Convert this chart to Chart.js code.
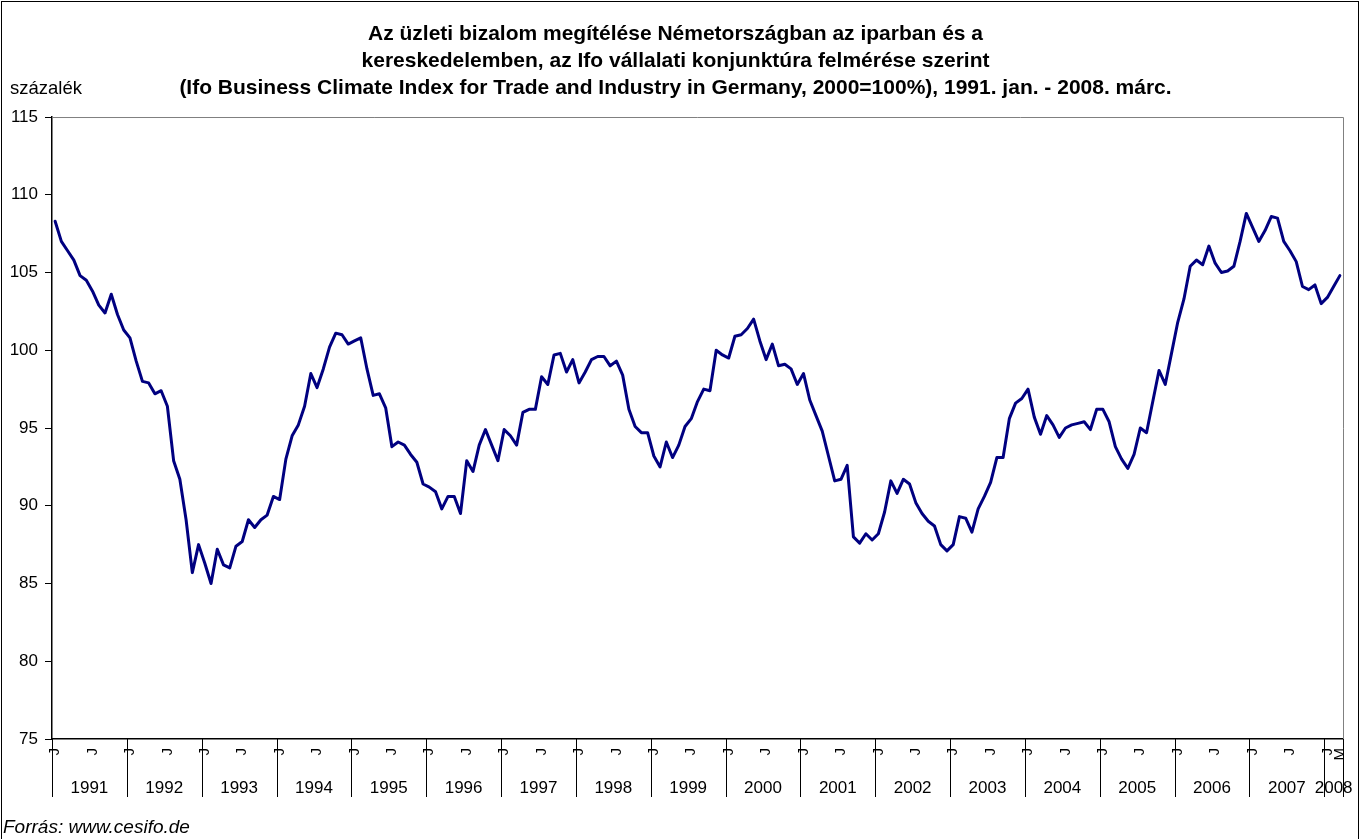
<!DOCTYPE html>
<html>
<head>
<meta charset="utf-8">
<script src="https://cdn.jsdelivr.net/npm/chart.js@4/dist/chart.umd.min.js"></script>
<style>
html,body{margin:0;padding:0;background:#fff;}
#wrap{width:1362px;height:839px;position:relative;}
</style>
</head>
<body>
<div id="wrap"><canvas id="c" width="1362" height="839"></canvas></div>
<script>
// ---------- texts ----------
const titleLines = [
  "Az üzleti bizalom megítélése Németországban az iparban és a",
  "kereskedelemben, az Ifo vállalati konjunktúra felmérése szerint",
  "(Ifo Business Climate Index for Trade and Industry in Germany, 2000=100%), 1991. jan. - 2008. márc."
];
const yAxisUnit = "százalék";
const sourceNote = "Forrás: www.cesifo.de";

// ---------- categories / tick labels ----------
const years = ["1991","1992","1993","1994","1995","1996","1997","1998","1999",
               "2000","2001","2002","2003","2004","2005","2006","2007","2008"];
const monthNames = ["jan","febr","márc","ápr","máj","jún","júl","aug","szept","okt","nov","dec"];
const monthLetters = ["J","","","","","","J","","","","",""];
const lastMonthLetter = "M";
const yTickValues = [75, 80, 85, 90, 95, 100, 105, 110, 115];

// ---------- series: Ifo index, monthly 1991 jan - 2008 márc ----------
const ifoIndex = [
  108.3,107.0,106.4,105.8,104.8,104.5,103.8,102.9,102.4,103.6,102.3,101.3, // 1991
  100.8, 99.3, 98.0, 97.9, 97.2, 97.4, 96.4, 92.9, 91.7, 89.1, 85.7, 87.5, // 1992
   86.3, 85.0, 87.2, 86.2, 86.0, 87.4, 87.7, 89.1, 88.6, 89.1, 89.4, 90.6, // 1993
   90.4, 93.0, 94.5, 95.2, 96.4, 98.5, 97.6, 98.8,100.2,101.1,101.0,100.4, // 1994
  100.6,100.8, 98.8, 97.1, 97.2, 96.3, 93.8, 94.1, 93.9, 93.3, 92.8, 91.4, // 1995
   91.2, 90.9, 89.8, 90.6, 90.6, 89.5, 92.9, 92.2, 93.9, 94.9, 93.9, 92.9, // 1996
   94.9, 94.5, 93.9, 96.0, 96.2, 96.2, 98.3, 97.8, 99.7, 99.8, 98.6, 99.4, // 1997
   97.9, 98.6, 99.4, 99.6, 99.6, 99.0, 99.3, 98.4, 96.2, 95.1, 94.7, 94.7, // 1998
   93.2, 92.5, 94.1, 93.1, 93.9, 95.1, 95.6, 96.7, 97.5, 97.4,100.0, 99.7, // 1999
   99.5,100.9,101.0,101.4,102.0,100.6, 99.4,100.4, 99.0, 99.1, 98.8, 97.8, // 2000
   98.5, 96.8, 95.8, 94.8, 93.2, 91.6, 91.7, 92.6, 88.0, 87.6, 88.2, 87.8, // 2001
   88.2, 89.6, 91.6, 90.8, 91.7, 91.4, 90.2, 89.5, 89.0, 88.7, 87.5, 87.1, // 2002
   87.5, 89.3, 89.2, 88.3, 89.8, 90.6, 91.5, 93.1, 93.1, 95.6, 96.6, 96.9, // 2003
   97.5, 95.7, 94.6, 95.8, 95.2, 94.4, 95.0, 95.2, 95.3, 95.4, 94.9, 96.2, // 2004
   96.2, 95.4, 93.8, 93.0, 92.4, 93.3, 95.0, 94.7, 96.7, 98.7, 97.8, 99.8, // 2005
  101.8,103.3,105.4,105.8,105.5,106.7,105.6,105.0,105.1,105.4,107.0,108.8, // 2006
  107.9,107.0,107.7,108.6,108.5,107.0,106.4,105.7,104.1,103.9,104.2,103.0, // 2007
  103.4,104.1,104.8                                                         // 2008
];

// category labels built from years/months
const categories = ifoIndex.map((v, i) => years[Math.floor(i / 12)] + ". " + monthNames[i % 12]);
const monthTickLabels = ifoIndex.map((v, i) => i === ifoIndex.length - 1 ? lastMonthLetter : monthLetters[i % 12]);

const FONT = "'Liberation Sans', Arial, sans-serif";

const decor = {
  id: 'decor',
  beforeDraw(chart) {
    const ctx = chart.ctx;
    ctx.save();
    ctx.fillStyle = '#fff';
    ctx.fillRect(0, 0, chart.width, chart.height);
    ctx.restore();
  },
  afterDraw(chart) {
    const ctx = chart.ctx;
    const a = chart.chartArea;
    const xs = chart.scales.x;
    const n = ifoIndex.length;
    const half = (xs.getPixelForValue(1) - xs.getPixelForValue(0)) / 2;
    ctx.save();
    // plot area top/right border
    ctx.strokeStyle = '#808080';
    ctx.lineWidth = 1;
    ctx.beginPath();
    ctx.moveTo(a.left, a.top + 0.5);
    ctx.lineTo(a.right + 0.5, a.top + 0.5);
    ctx.lineTo(a.right + 0.5, a.bottom);
    ctx.stroke();

    // year separators
    ctx.strokeStyle = '#000';
    ctx.lineWidth = 1;
    const sepBottom = a.bottom + 58;
    const bounds = [];
    for (let i = 0; i < n; i += 12) bounds.push(xs.getPixelForValue(i) - half);
    bounds.push(xs.getPixelForValue(n - 1) + half);
    ctx.beginPath();
    bounds.forEach(bx => {
      const px = Math.round(bx) + 0.5;
      ctx.moveTo(px, a.bottom);
      ctx.lineTo(px, sepBottom);
    });
    ctx.stroke();

    // month letters (rotated)
    ctx.fillStyle = '#000';
    ctx.font = "15px " + FONT;
    ctx.textAlign = 'right';
    ctx.textBaseline = 'middle';
    monthTickLabels.forEach((lab, i) => {
      if (!lab) return;
      const px = xs.getPixelForValue(i);
      ctx.save();
      ctx.translate(px, a.bottom + 9);
      ctx.rotate(-Math.PI / 2);
      ctx.fillText(lab, 0, 0);
      ctx.restore();
    });

    // year labels
    ctx.font = "17px " + FONT;
    ctx.textAlign = 'center';
    ctx.textBaseline = 'middle';
    years.forEach((y, k) => {
      const cx = (bounds[k] + bounds[k + 1]) / 2;
      ctx.fillText(y, cx, a.bottom + 49);
    });

    // unit label
    ctx.textAlign = 'left';
    ctx.font = "18.5px " + FONT;
    ctx.fillText(yAxisUnit, 10, 89);

    // source
    ctx.font = "italic 19px " + FONT;
    ctx.fillText(sourceNote, 3, 828);

    // outer frame
    ctx.strokeStyle = '#000';
    ctx.lineWidth = 1;
    ctx.strokeRect(1.5, 1.5, 1357, 840);
    ctx.restore();
  }
};

new Chart(document.getElementById('c'), {
  type: 'line',
  data: {
    labels: categories,
    datasets: [{
      label: 'Ifo',
      data: ifoIndex,
      borderColor: '#000080',
      borderWidth: 3,
      pointRadius: 0,
      tension: 0,
      fill: false,
      borderJoinStyle: 'round',
      borderCapStyle: 'round'
    }]
  },
  options: {
    responsive: false,
    animation: false,
    devicePixelRatio: 1,
    layout: { padding: { left: 8, right: 19, top: 0, bottom: 0 } },
    plugins: {
      legend: { display: false },
      tooltip: { enabled: false },
      title: {
        display: true,
        text: titleLines,
        color: '#000',
        font: { family: FONT, size: 21, weight: 'bold', lineHeight: 1.286 },
        padding: { top: 21, bottom: 15 }
      }
    },
    scales: {
      x: {
        type: 'category',
        offset: true,
        grid: { display: false },
        ticks: { display: false },
        border: { display: true, color: '#000', width: 1.5 },
        afterFit: s => { s.height = 100; }
      },
      y: {
        min: 75,
        max: 115,
        afterBuildTicks: s => { s.ticks = yTickValues.map(v => ({ value: v })); },
        ticks: {
          color: '#000',
          font: { family: FONT, size: 17 },
          padding: 7
        },
        grid: { drawOnChartArea: false, tickLength: 7, color: '#000', lineWidth: 1 },
        border: { display: true, color: '#000', width: 1.5 },
        afterFit: s => { s.width = 44; }
      }
    }
  },
  plugins: [decor]
});
</script>
</body>
</html>
